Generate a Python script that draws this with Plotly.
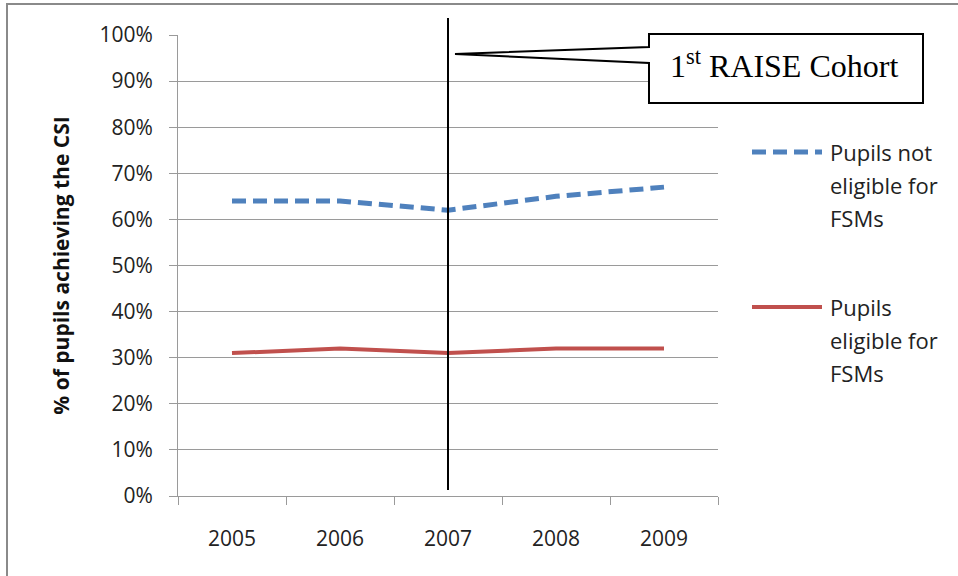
import plotly.graph_objects as go

years = ["2005", "2006", "2007", "2008", "2009"]
not_eligible = [64, 64, 62, 65, 67]
eligible = [31, 32, 31, 32, 32]
series_names = ["Pupils not<br>eligible for<br>FSMs", "Pupils<br>eligible for<br>FSMs"]
y_ticks = [0, 10, 20, 30, 40, 50, 60, 70, 80, 90, 100]
y_tick_labels = [f"{v}%" for v in y_ticks]
cohort_year = "2007"

W, H = 958, 576
L, R, T, B = 178, 718, 35, 496


def px(x):
    return (x - L) / (R - L)


def py(y):
    return (B - y) / (B - T)


BLUE = "#4F81BD"
RED = "#C0504D"
GRID = "#9a9a9a"
FONT = "Open Sans"

fig = go.Figure()
fig.add_trace(go.Scatter(x=years, y=not_eligible, mode="lines", name="Pupils not eligible for FSMs",
                         line=dict(color=BLUE, width=5, dash="14px,7px"), showlegend=False))
fig.add_trace(go.Scatter(x=years, y=eligible, mode="lines", name="Pupils eligible for FSMs",
                         line=dict(color=RED, width=4), showlegend=False))

cx = years.index(cohort_year)
shapes = []
# outer frame
shapes.append(dict(type="rect", xref="paper", yref="paper", x0=px(7), x1=px(1000), y0=py(600), y1=py(4),
                   line=dict(color="#8a8a8a", width=2), layer="below"))
# vertical marker at 2007
shapes.append(dict(type="line", xref="x", yref="paper", x0=cx, x1=cx, y0=py(490), y1=py(18),
                   line=dict(color="black", width=2)))
# callout box with pointer
pts = [(455, 54), (649, 47), (649, 34), (923, 34), (923, 103), (649, 103), (649, 63)]
path = "M " + " L ".join(f"{px(a):.5f},{py(b):.5f}" for a, b in pts) + " Z"
shapes.append(dict(type="path", xref="paper", yref="paper", path=path, fillcolor="white",
                   line=dict(color="black", width=2)))
# legend samples
shapes.append(dict(type="line", xref="paper", yref="paper", x0=px(752), x1=px(822), y0=py(152), y1=py(152),
                   line=dict(color=BLUE, width=5, dash="14px,7px")))
shapes.append(dict(type="line", xref="paper", yref="paper", x0=px(752), x1=px(822), y0=py(307), y1=py(307),
                   line=dict(color=RED, width=4)))

annotations = []
annotations.append(dict(xref="paper", yref="paper", x=px(784), y=py(64), text="1<sup>st</sup> RAISE Cohort",
                        showarrow=False, font=dict(family="Liberation Serif", size=32, color="black"),
                        xanchor="center", yanchor="middle"))
legend_y = [[152, 185, 218], [307, 340, 373]]
for name, ys in zip(series_names, legend_y):
    for line, yy in zip(name.split("<br>"), ys):
        annotations.append(dict(xref="paper", yref="paper", x=px(828), y=py(yy), text=line, showarrow=False,
                                xanchor="left", yanchor="middle",
                                font=dict(family=FONT, size=22, color="#222")))

fig.update_layout(
    width=W, height=H,
    margin=dict(l=L, r=W - R, t=T, b=H - B, autoexpand=False),
    paper_bgcolor="white", plot_bgcolor="white",
    font=dict(family=FONT, color="#222"),
    shapes=shapes, annotations=annotations,
    xaxis=dict(type="category", range=[-0.5, 4.5], tickson="boundaries", ticks="outside", ticklen=8,
               tickcolor=GRID, tickangle=0, ticklabelstandoff=24,
               showline=True, linecolor=GRID, linewidth=1, showgrid=False,
               tickfont=dict(family=FONT, size=21, color="#222")),
    yaxis=dict(range=[0, 100], tickvals=y_ticks, ticktext=y_tick_labels, ticks="outside", ticklen=8,
               tickcolor=GRID, ticklabelstandoff=12,
               showline=True, linecolor=GRID, linewidth=1, showgrid=True, gridcolor=GRID, gridwidth=1,
               zeroline=False, tickfont=dict(family=FONT, size=21, color="#222"),
               title=dict(text="<b>% of pupils achieving the CSI</b>", font=dict(family=FONT, size=21, color="#111"),
                          standoff=24)),
)

fig.write_html("out.html")
